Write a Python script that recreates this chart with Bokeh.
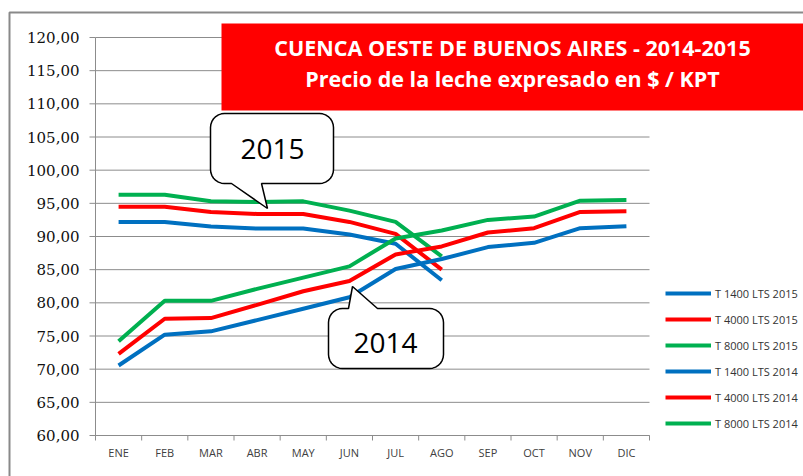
from bokeh.plotting import figure
from bokeh.models import (Range1d, Legend, LegendItem, PolyAnnotation)
from bokeh.core.properties import value
from bokeh.embed import file_html
from bokeh.resources import INLINE
import numpy as np

# ---------------- data ----------------
months = ["ENE", "FEB", "MAR", "ABR", "MAY", "JUN", "JUL", "AGO", "SEP", "OCT", "NOV", "DIC"]
t1400_2015 = [92.2, 92.2, 91.5, 91.2, 91.2, 90.3, 88.9, 83.4]
t4000_2015 = [94.5, 94.5, 93.7, 93.4, 93.4, 92.2, 90.4, 85.0]
t8000_2015 = [96.3, 96.3, 95.3, 95.2, 95.3, 93.9, 92.2, 87.0]
t1400_2014 = [70.55, 75.2, 75.7, 77.4, 79.1, 80.85, 85.1, 86.6, 88.4, 89.05, 91.25, 91.55]
t4000_2014 = [72.3, 77.6, 77.7, 79.7, 81.75, 83.3, 87.3, 88.5, 90.6, 91.25, 93.7, 93.8]
t8000_2014 = [74.2, 80.3, 80.3, 82.1, 83.8, 85.5, 89.7, 90.9, 92.5, 93.0, 95.4, 95.5]
series_names = ["T 1400 LTS 2015", "T 4000 LTS 2015", "T 8000 LTS 2015",
                "T 1400 LTS 2014", "T 4000 LTS 2014", "T 8000 LTS 2014"]
y_ticks = list(range(60, 121, 5))
y_labels = [f"{t},00" for t in y_ticks]
title_1 = "CUENCA OESTE DE BUENOS AIRES - 2014-2015"
title_2 = "Precio de la leche expresado en $ / KPT"

BLUE, RED, GREEN = "#0070C0", "#FF0000", "#00B050"
GRID = "#8c8c8c"

W, H = 803, 476
FX0, FW, FY0, FH = 95, 554, 37, 398     # plot area inside the canvas (pixels)
YMIN, YMAX = 60, 120
NX = len(months)


def dx(px):
    return (px - FX0) / FW * NX


def dy(py):
    return YMAX - (py - FY0) / FH * (YMAX - YMIN)


p = figure(width=W, height=H, output_backend="svg", toolbar_location=None,
           x_range=Range1d(dx(0), dx(W)), y_range=Range1d(dy(H), dy(0)),
           x_axis_location=None, y_axis_location=None,
           min_border=0, min_border_left=0, min_border_right=0,
           min_border_top=0, min_border_bottom=0)
p.outline_line_color = None
p.grid.visible = False
p.background_fill_color = "white"
p.border_fill_color = "white"

# outer chart border
bx = [dx(9), dx(830), dx(830), dx(9)]
by = [dy(12), dy(12), dy(520), dy(520)]
p.add_layout(PolyAnnotation(xs=bx, ys=by, fill_alpha=0, line_color="#898989",
                            line_alpha=1, line_width=2, level="underlay"))

# grid lines, axes, ticks
p.segment(x0=0, x1=NX, y0=y_ticks, y1=y_ticks, line_color=GRID, line_width=1)
p.segment(x0=0, x1=0, y0=YMIN, y1=YMAX, line_color=GRID, line_width=1)
p.segment(x0=dx(89), x1=0, y0=y_ticks, y1=y_ticks, line_color=GRID, line_width=1)
p.segment(x0=0, x1=NX, y0=YMIN, y1=YMIN, line_color=GRID, line_width=1)
bticks = list(range(NX + 1))
p.segment(x0=bticks, x1=bticks, y0=[YMIN] * len(bticks), y1=[dy(440)] * len(bticks),
          line_color=GRID, line_width=1)

# tick labels
p.text(x=[dx(79)] * len(y_ticks), y=y_ticks, text=y_labels, text_align="right",
       text_baseline="middle", text_font=value("DejaVu Serif"),
       text_font_size="15px", text_color="#111111")
xc = [i + 0.5 for i in range(NX)]
p.text(x=xc, y=[dy(452)] * NX, text=months, text_align="center",
       text_baseline="middle", text_font=value("Open Sans"),
       text_font_size="11px", text_color="#404040")

# lines
vals = [t1400_2015, t4000_2015, t8000_2015, t1400_2014, t4000_2014, t8000_2014]
cols = [BLUE, RED, GREEN, BLUE, RED, GREEN]
items = []
for name, v, c in zip(series_names, vals, cols):
    r = p.line(xc[:len(v)], v, line_color=c, line_width=4, line_join="round")
    items.append(LegendItem(label=name, renderers=[r]))

legend = Legend(items=items, location=(665, H - 433), padding=0, margin=0,
                glyph_width=46, glyph_height=20, label_height=20, spacing=6,
                label_standoff=4, label_text_font="Open Sans",
                label_text_font_size="11px", label_text_color="#333333",
                border_line_color=None, background_fill_alpha=0)
p.add_layout(legend)


# callouts
def arc(cx, cy, r, a0, a1, n=8):
    a = np.radians(np.linspace(a0, a1, n))
    return list(zip(cx + r * np.cos(a), cy + r * np.sin(a)))


def callout(l, t, r, b, rad, base1, base2, tip, side):
    pts = []
    if side == "top":
        pts += [(base1, t), tip, (base2, t)]
    pts += arc(r - rad, t + rad, rad, -90, 0)
    pts += arc(r - rad, b - rad, rad, 0, 90)
    if side == "bottom":
        pts += [(base2, b), tip, (base1, b)]
    pts += arc(l + rad, b - rad, rad, 90, 180)
    pts += arc(l + rad, t + rad, rad, 180, 270)
    return [dx(q[0]) for q in pts], [dy(q[1]) for q in pts]


for (l, t, r, b, b1, b2, tip, side) in [(210, 113, 333, 183, 231, 261, (267, 208), "bottom"),
                                         (328, 308, 443, 368, 348, 377, (352, 286), "top")]:
    xs, ys = callout(l, t, r, b, 14, b1, b2, tip, side)
    p.add_layout(PolyAnnotation(xs=xs, ys=ys, fill_color="white", fill_alpha=1,
                                line_color="black", line_alpha=1, line_width=1.5))

p.text(x=[dx(272), dx(385)], y=[dy(148), dy(342)], text=["2015", "2014"],
       text_align="center", text_baseline="middle", text_font=value("Open Sans"),
       text_font_size="28px", text_color="black", level="overlay")

# title box
tx = [dx(221), dx(806), dx(806), dx(221)]
ty = [dy(23), dy(23), dy(110), dy(110)]
p.add_layout(PolyAnnotation(xs=tx, ys=ty, fill_color="#FF0000", fill_alpha=1,
                            line_alpha=0))
p.text(x=[dx(512), dx(512)], y=[dy(47), dy(78)], text=[title_1, title_2],
       text_align="center", text_baseline="middle", text_font=value("Open Sans"),
       text_font_style="bold", text_font_size="21.5px", text_color="white",
       level="overlay")

open("out.html", "w").write(file_html(p, INLINE))
